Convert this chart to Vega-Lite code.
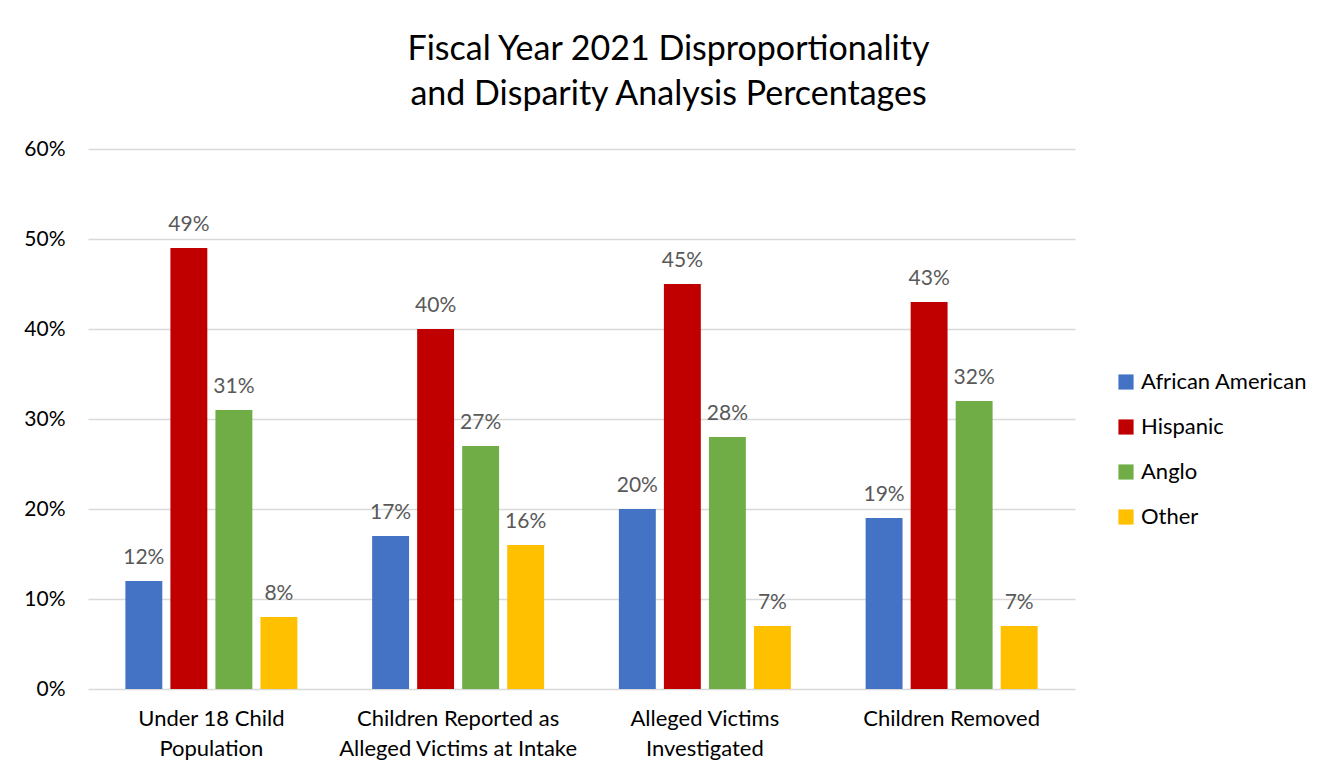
{
  "$schema": "https://vega.github.io/schema/vega-lite/v6.json",
  "autosize": "none",
  "width": 987,
  "height": 540,
  "padding": {"left": 88, "top": 149, "right": 261, "bottom": 88},
  "background": "white",
  "title": {
    "text": ["Fiscal Year 2021 Disproportionality", "and Disparity Analysis Percentages"],
    "font": "Lato",
    "fontSize": 34,
    "fontWeight": "normal",
    "color": "#000000",
    "lineHeight": 45,
    "anchor": "middle",
    "frame": "group",
    "dx": 87,
    "offset": 26
  },
  "data": {
    "values": [
      {"cat": "Under 18 Child Population", "group": "African American", "pct": 0.12},
      {"cat": "Under 18 Child Population", "group": "Hispanic", "pct": 0.49},
      {"cat": "Under 18 Child Population", "group": "Anglo", "pct": 0.31},
      {"cat": "Under 18 Child Population", "group": "Other", "pct": 0.08},
      {"cat": "Children Reported as Alleged Victims at Intake", "group": "African American", "pct": 0.17},
      {"cat": "Children Reported as Alleged Victims at Intake", "group": "Hispanic", "pct": 0.40},
      {"cat": "Children Reported as Alleged Victims at Intake", "group": "Anglo", "pct": 0.27},
      {"cat": "Children Reported as Alleged Victims at Intake", "group": "Other", "pct": 0.16},
      {"cat": "Alleged Victims Investigated", "group": "African American", "pct": 0.20},
      {"cat": "Alleged Victims Investigated", "group": "Hispanic", "pct": 0.45},
      {"cat": "Alleged Victims Investigated", "group": "Anglo", "pct": 0.28},
      {"cat": "Alleged Victims Investigated", "group": "Other", "pct": 0.07},
      {"cat": "Children Removed", "group": "African American", "pct": 0.19},
      {"cat": "Children Removed", "group": "Hispanic", "pct": 0.43},
      {"cat": "Children Removed", "group": "Anglo", "pct": 0.32},
      {"cat": "Children Removed", "group": "Other", "pct": 0.07}
    ]
  },
  "encoding": {
    "x": {
      "field": "cat",
      "type": "nominal",
      "sort": ["Under 18 Child Population", "Children Reported as Alleged Victims at Intake", "Alleged Victims Investigated", "Children Removed"],
      "scale": {"paddingInner": 0.303, "paddingOuter": 0.1515},
      "axis": {
        "title": null,
        "labelAngle": 0,
        "domain": false,
        "ticks": false,
        "labelFont": "Lato",
        "labelFontSize": 22,
        "labelColor": "#000000",
        "labelPadding": 19,
        "labelLineHeight": 30,
        "labelLimit": 400,
        "labelExpr": "datum.label == 'Under 18 Child Population' ? ['Under 18 Child', 'Population'] : datum.label == 'Children Reported as Alleged Victims at Intake' ? ['Children Reported as', 'Alleged Victims at Intake'] : datum.label == 'Alleged Victims Investigated' ? ['Alleged Victims', 'Investigated'] : datum.label"
      }
    },
    "xOffset": {
      "field": "group",
      "type": "nominal",
      "sort": ["African American", "Hispanic", "Anglo", "Other"],
      "scale": {"paddingInner": 0.18, "paddingOuter": 0}
    },
    "y": {
      "field": "pct",
      "type": "quantitative",
      "scale": {"domain": [0, 0.6]},
      "axis": {
        "title": null,
        "values": [0, 0.1, 0.2, 0.3, 0.4, 0.5, 0.6],
        "format": ".0%",
        "domain": false,
        "ticks": false,
        "grid": true,
        "gridColor": "#d9d9d9",
        "gridWidth": 1.3,
        "labelFont": "Lato",
        "labelFontSize": 21,
        "labelColor": "#000000",
        "labelPadding": 23
      }
    }
  },
  "layer": [
    {
      "mark": {"type": "bar"},
      "encoding": {
        "color": {
          "field": "group",
          "type": "nominal",
          "sort": ["African American", "Hispanic", "Anglo", "Other"],
          "scale": {
            "domain": ["African American", "Hispanic", "Anglo", "Other"],
            "range": ["#4472C4", "#C00000", "#70AD47", "#FFC000"]
          },
          "legend": {
            "title": null,
            "orient": "none",
            "legendX": 1027,
            "legendY": 222,
            "symbolType": "square",
            "symbolSize": 230,
            "symbolStrokeWidth": 0,
            "labelFont": "Lato",
            "labelFontSize": 22,
            "labelColor": "#000000",
            "rowPadding": 23,
            "labelOffset": 4,
            "labelLimit": 300
          }
        }
      }
    },
    {
      "mark": {"type": "text", "baseline": "bottom", "dy": -13, "font": "Lato", "fontSize": 21, "color": "#595959"},
      "encoding": {
        "text": {"field": "pct", "type": "quantitative", "format": ".0%"}
      }
    }
  ],
  "config": {"view": {"stroke": null}}
}
